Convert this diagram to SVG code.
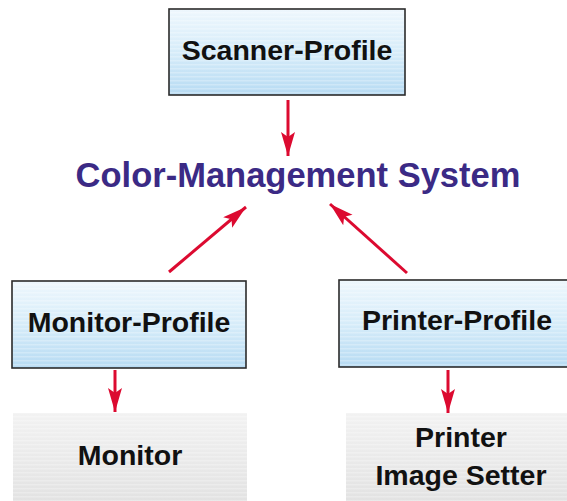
<svg xmlns="http://www.w3.org/2000/svg" width="567" height="501" viewBox="0 0 567 501">
  <defs>
    <linearGradient id="blue" x1="0" y1="0" x2="0" y2="1">
      <stop offset="0" stop-color="#eef7fd"/>
      <stop offset="0.5" stop-color="#d6ecf9"/>
      <stop offset="1" stop-color="#b7dbf3"/>
    </linearGradient>
    <linearGradient id="gray" x1="0" y1="0" x2="0" y2="1">
      <stop offset="0" stop-color="#f2f2f2"/>
      <stop offset="1" stop-color="#e2e2e2"/>
    </linearGradient>
    <pattern id="stripes" x="0" y="0" width="4" height="4" patternUnits="userSpaceOnUse">
      <rect x="0" y="0" width="4" height="1.5" fill="#ffffff" fill-opacity="0.25"/>
    </pattern>
    <marker id="arrow" markerUnits="userSpaceOnUse" markerWidth="26" markerHeight="16" refX="24" refY="7" orient="auto">
      <path d="M0,0 L24,7 L0,14 L5,7 Z" fill="#dc0a30"/>
    </marker>
  </defs>
  <style>
    .profile { fill: url(#blue); stroke: #2b2b2b; stroke-width: 1.6; }
    .device { fill: url(#gray); stroke: none; }
    .stripe { fill: url(#stripes); stroke: none; }
    .label { font-family: "Liberation Sans", Arial, sans-serif; font-weight: bold; font-size: 28.5px; fill: #111111; text-anchor: middle; }
    .title { font-family: "Liberation Sans", Arial, sans-serif; font-weight: bold; font-size: 34.5px; fill: #3b2a85; text-anchor: middle; }
    .conn { stroke: #dc0a30; stroke-width: 3; fill: none; marker-end: url(#arrow); }
  </style>

  <g id="scanner-profile">
    <rect class="profile" x="169" y="9" width="236" height="86"/>
    <rect class="stripe" x="170" y="10" width="234" height="84"/>
    <text class="label" x="287" y="60">Scanner-Profile</text>
  </g>

  <g id="cms">
    <text class="title" x="298" y="187">Color-Management System</text>
  </g>

  <g id="monitor-profile">
    <rect class="profile" x="12" y="281" width="234" height="87"/>
    <rect class="stripe" x="13" y="282" width="232" height="85"/>
    <text class="label" x="129" y="332">Monitor-Profile</text>
  </g>

  <g id="printer-profile">
    <rect class="profile" x="339" y="280" width="240" height="87"/>
    <rect class="stripe" x="340" y="281" width="238" height="85"/>
    <text class="label" x="457" y="330">Printer-Profile</text>
  </g>

  <g id="monitor">
    <rect class="device" x="13" y="413" width="234" height="90"/>
    <rect class="stripe" x="13" y="413" width="234" height="90"/>
    <text class="label" x="130" y="465">Monitor</text>
  </g>

  <g id="printer">
    <rect class="device" x="346" y="413" width="230" height="90"/>
    <rect class="stripe" x="346" y="413" width="230" height="90"/>
    <text class="label" x="461" y="447">Printer</text>
    <text class="label" x="461" y="485">Image Setter</text>
  </g>

  <g id="connectors">
    <line class="conn" x1="288" y1="100" x2="288" y2="156"/>
    <line class="conn" x1="169" y1="272" x2="246" y2="207"/>
    <line class="conn" x1="407" y1="273" x2="330" y2="204"/>
    <line class="conn" x1="115" y1="370" x2="115" y2="412"/>
    <line class="conn" x1="448" y1="370" x2="448" y2="413"/>
  </g>
</svg>
